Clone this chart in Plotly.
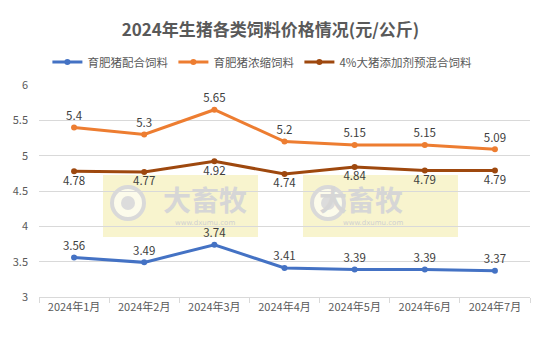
import plotly.graph_objects as go

categories = ["2024年1月", "2024年2月", "2024年3月", "2024年4月", "2024年5月", "2024年6月", "2024年7月"]
compound = [3.56, 3.49, 3.74, 3.41, 3.39, 3.39, 3.37]
concentrate = [5.4, 5.3, 5.65, 5.2, 5.15, 5.15, 5.09]
premix = [4.78, 4.77, 4.92, 4.74, 4.84, 4.79, 4.79]
series_names = ["育肥猪配合饲料", "育肥猪浓缩饲料", "4%大猪添加剂预混合饲料"]
y_ticks = [3, 3.5, 4, 4.5, 5, 5.5, 6]
y_tick_labels = ["3", "3.5", "4", "4.5", "5", "5.5", "6"]

FONT = "Noto Sans CJK SC, Microsoft YaHei, sans-serif"
W, H = 541, 337
L, R, T, B = 39, 11, 85, 40

fig = go.Figure()
specs = [
    (compound, series_names[0], "#4472C4", "top center"),
    (concentrate, series_names[1], "#ED7D31", "top center"),
    (premix, series_names[2], "#9E480E", "bottom center"),
]
for vals, name, color, pos in specs:
    fig.add_trace(go.Scatter(
        x=categories, y=vals, name=name, mode="lines+markers+text",
        line=dict(color=color, width=3),
        marker=dict(color=color, size=6),
        text=[f"{v:g}" for v in vals], textposition=pos,
        textfont=dict(family=FONT, size=11.5, color="#404040"),
        cliponaxis=False,
    ))

# watermark boxes (decoration)
PW, PH = W - L - R, H - T - B
def px2paper(x, y):
    return (x - L) / PW, 1 - (y - T) / PH

shapes = []
annotations = []
for x0 in (103, 303):
    a0, b0 = px2paper(x0, 175)
    a1, b1 = px2paper(x0 + 155, 237)
    shapes.append(dict(type="rect", xref="paper", yref="paper", x0=a0, x1=a1, y0=b1, y1=b0,
                       fillcolor="rgba(246,240,190,0.75)", line=dict(width=0), layer="below"))
    c0x, c0y = px2paper(x0 + 9, 187)
    c1x, c1y = px2paper(x0 + 41, 219)
    shapes.append(dict(type="circle", xref="paper", yref="paper",
                       x0=c0x, x1=c1x, y0=c1y, y1=c0y,
                       line=dict(color="#d9d9d9", width=4), fillcolor="rgba(255,255,255,0.6)", layer="below"))
    d0x, d0y = px2paper(x0 + 18, 196)
    d1x, d1y = px2paper(x0 + 32, 210)
    shapes.append(dict(type="circle", xref="paper", yref="paper",
                       x0=d0x, x1=d1x, y0=d1y, y1=d0y,
                       line=dict(width=0), fillcolor="#dcdcdc", layer="below"))
    tx, ty = px2paper(x0 + 102, 199)
    annotations.append(dict(xref="paper", yref="paper", x=tx, y=ty, text="<b>大畜牧</b>", showarrow=False,
                            font=dict(family=FONT, size=28, color="#d6d6d6")))
    tx2, ty2 = px2paper(x0 + 102, 223)
    annotations.append(dict(xref="paper", yref="paper", x=tx2, y=ty2, text="www.dxumu.com", showarrow=False,
                            font=dict(family="DejaVu Sans", size=7, color="#d0d0d0")))

fig.update_layout(
    width=W, height=H, autosize=False,
    margin=dict(l=L, r=R, t=T, b=B, pad=0, autoexpand=False),
    paper_bgcolor="white", plot_bgcolor="white",
    title=dict(text="<b>2024年生猪各类饲料价格情况(元/公斤)</b>", x=0.5, xanchor="center",
               y=1 - 30 / H, yanchor="middle",
               font=dict(family=FONT, size=17, color="#595959")),
    legend=dict(orientation="h", x=0.455, xanchor="center", y=1 - 62 / H, yref="container", yanchor="middle",
                font=dict(family=FONT, size=11.5, color="#595959"), itemwidth=30, tracegroupgap=0),
    showlegend=True,
    shapes=shapes, annotations=annotations,
    xaxis=dict(type="category", range=[-0.5, len(categories) - 0.5],
               showgrid=False, showline=True, linecolor="#d9d9d9", linewidth=1,
               ticks="outside", ticklen=5, tickcolor="#d9d9d9", tickson="boundaries",
               automargin=False,
               tickfont=dict(family=FONT, size=11, color="#595959")),
    yaxis=dict(range=[3, 6], tickvals=y_ticks, ticktext=y_tick_labels,
               showgrid=True, gridcolor="#d9d9d9", gridwidth=1,
               zeroline=False, showline=False, automargin=False, ticklabelstandoff=10,
               tickfont=dict(family=FONT, size=11, color="#595959")),
)

fig.write_html("out.html", config={"responsive": False})
